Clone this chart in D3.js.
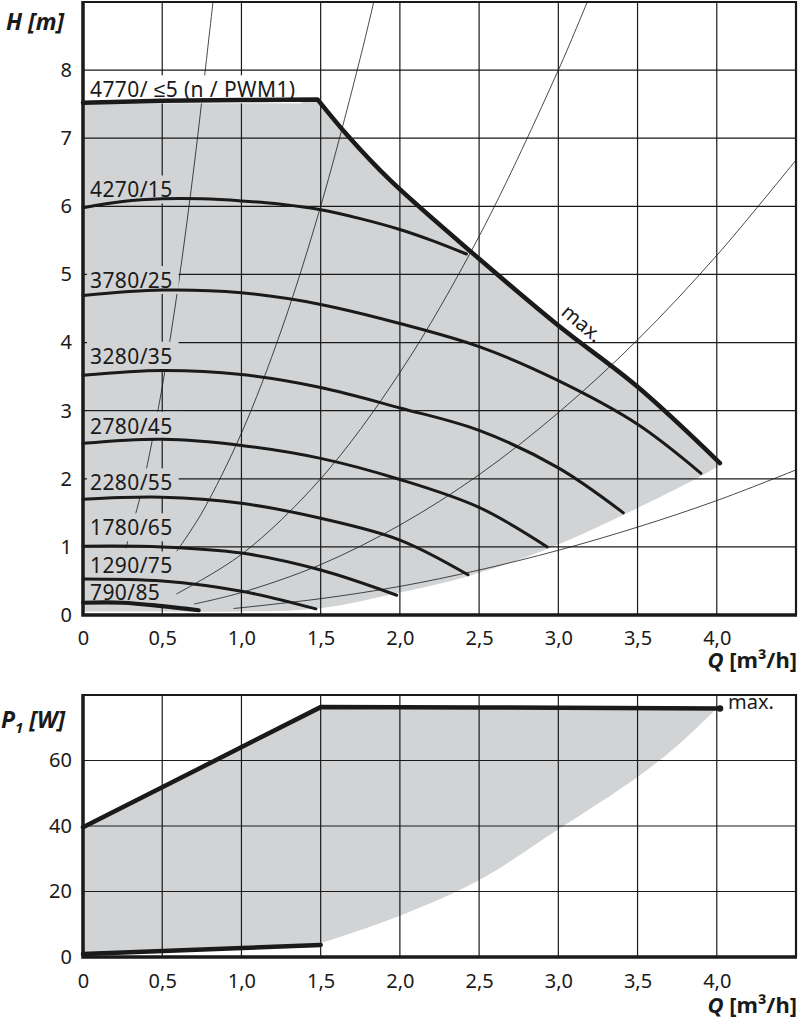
<!DOCTYPE html>
<html><head><meta charset="utf-8">
<script src="https://cdn.jsdelivr.net/npm/d3@7"></script>
<style>
body{margin:0;background:#fff}
svg{display:block}
text{font-family:"Noto Sans",sans-serif;fill:#1a1a1a}
</style>
</head><body><svg id="c" width="799" height="1019"></svg>
<script>
// ---------- data ----------
const qTicks = [0, 0.5, 1.0, 1.5, 2.0, 2.5, 3.0, 3.5, 4.0];
const qTickLabels = ["0", "0,5", "1,0", "1,5", "2,0", "2,5", "3,0", "3,5", "4,0"];
const hTicks = [0, 1, 2, 3, 4, 5, 6, 7, 8];
const pTicks = [0, 20, 40, 60];

const curveLabels = ["4770/ ≤5 (n / PWM1)", "4270/15", "3780/25", "3280/35", "2780/45", "2280/55", "1780/65", "1290/75", "790/85"];
const labelBaselineH = [7.6, 6.13, 4.8, 3.69, 2.66, 1.83, 1.17, 0.61, 0.22];

const curveMaxFlat = [[0, 7.52], [0.5, 7.55], [1.0, 7.56], [1.48, 7.57]];
const curveMaxDrop = [[1.48, 7.57], [1.67, 7.04], [1.94, 6.38], [2.5, 5.23], [3.0, 4.25], [3.5, 3.35], [4.02, 2.23]];
const curve4270 = [[0, 5.98], [0.25, 6.07], [0.5, 6.11], [0.75, 6.11], [1.0, 6.08], [1.25, 6.03], [1.5, 5.95], [1.75, 5.82], [2.0, 5.66], [2.2, 5.5], [2.42, 5.3]];
const curve3780 = [[0, 4.69], [0.5, 4.77], [1.0, 4.73], [1.5, 4.56], [2.0, 4.28], [2.5, 3.94], [3.0, 3.44], [3.5, 2.8], [3.9, 2.08]];
const curve3280 = [[0, 3.52], [0.5, 3.59], [1.0, 3.53], [1.5, 3.34], [2.0, 3.04], [2.5, 2.71], [3.0, 2.16], [3.41, 1.5]];
const curve2780 = [[0, 2.52], [0.5, 2.58], [1.0, 2.49], [1.5, 2.3], [2.0, 1.99], [2.5, 1.58], [2.93, 1.0]];
const curve2280 = [[0, 1.7], [0.5, 1.73], [1.0, 1.64], [1.5, 1.42], [2.0, 1.1], [2.43, 0.59]];
const curve1780 = [[0, 1.01], [0.5, 1.0], [1.0, 0.91], [1.5, 0.66], [1.98, 0.29]];
const curve1290 = [[0, 0.53], [0.5, 0.5], [1.0, 0.35], [1.47, 0.09]];
const curve790 = [[0, 0.18], [0.25, 0.18], [0.5, 0.13], [0.73, 0.07]];

const fillLowerH = [[4.02, 2.2], [3.82, 1.94], [3.41, 1.47], [2.93, 0.97], [2.43, 0.57], [2.0, 0.33], [1.5, 0.1], [1.0, 0.05], [0.5, 0.05], [0, 0.05]];

const system1 = [[0.27, 0.98], [0.35, 1.64], [0.4, 2.14], [0.5, 3.35], [0.6, 4.82], [0.7, 6.57], [0.8, 8.58], [0.83, 9.2]];
const system2 = [[0.59, 0.93], [0.75, 1.5], [1.0, 2.67], [1.25, 4.17], [1.5, 6.0], [1.75, 8.18], [1.85, 9.15]];
const system3 = [[0.59, 0.31], [1.0, 0.89], [1.5, 2.0], [2.0, 3.56], [2.5, 5.56], [3.0, 8.0], [3.2, 9.1]];
const system4 = [[0.7, 0.16], [1.0, 0.33], [1.5, 0.74], [2.0, 1.32], [2.5, 2.06], [3.0, 2.97], [3.5, 4.04], [4.0, 5.28], [4.5, 6.68]];
const system5 = [[0.95, 0.095], [1.5, 0.24], [2.0, 0.42], [2.5, 0.66], [3.0, 0.95], [3.5, 1.29], [4.0, 1.68], [4.5, 2.13]];

const powerMax = [[0, 39.6], [1.5, 76.3], [2.5, 76.2], [4.02, 75.9]];
const powerMin = [[0, 0.9], [1.5, 3.7]];
const powerFillLower = [[4.0, 75.9], [3.75, 64.5], [3.5, 55], [3.0, 39], [2.5, 23.5], [2.0, 12.6], [1.5, 4.2]];

// ---------- drawing ----------
const svg = d3.select("#c");
const FILL = "#d1d3d5", INK = "#1a1a1a";
const x = d3.scaleLinear().domain([0, 4.5]).range([83, 796]);
const yH = d3.scaleLinear().domain([0, 9]).range([615, 2]);
const yP = d3.scaleLinear().domain([0, 80]).range([957, 695]);

svg.append("defs").append("clipPath").attr("id", "clipH")
  .append("rect").attr("x", x(0)).attr("y", yH(9)).attr("width", x(4.5) - x(0)).attr("height", yH(0) - yH(9));

// ===== top chart =====
const gTop = svg.append("g");
const lineH = d3.line().x(d => x(d[0])).y(d => yH(d[1]));
const lineHs = d3.line().x(d => x(d[0])).y(d => yH(d[1])).curve(d3.curveCatmullRom.alpha(0.5));
const maxPath = lineH(curveMaxFlat) + "L" + lineHs(curveMaxDrop).slice(1);

gTop.append("path")
  .attr("d", maxPath + "L" + lineHs(fillLowerH).slice(1) + "Z")
  .attr("fill", FILL);

gTop.append("g").selectAll("line").data(qTicks.filter(d => d > 0)).join("line")
  .attr("x1", d => x(d)).attr("x2", d => x(d)).attr("y1", yH(0)).attr("y2", yH(9))
  .attr("stroke", INK).attr("stroke-width", 1.2);
gTop.append("g").selectAll("line").data(hTicks.filter(d => d > 0)).join("line")
  .attr("x1", x(0)).attr("x2", x(4.5)).attr("y1", d => yH(d)).attr("y2", d => yH(d))
  .attr("stroke", INK).attr("stroke-width", 1.2);

gTop.append("g").attr("clip-path", "url(#clipH)").selectAll("path")
  .data([system1, system2, system3, system4, system5]).join("path")
  .attr("d", lineHs).attr("fill", "none").attr("stroke", INK).attr("stroke-width", 0.8);

const labG = gTop.append("g");
curveLabels.forEach((t, i) => {
  const g = labG.append("g");
  const r = g.append("rect");
  const tx = g.append("text").attr("x", 90).attr("y", yH(labelBaselineH[i]))
    .attr("font-size", 21).attr("letter-spacing", 0.4).text(t);
  const bb = tx.node().getBBox();
  r.attr("x", 87).attr("y", bb.y).attr("width", bb.x + bb.width + 6 - 87).attr("height", bb.height)
    .attr("fill", i === 0 ? "#fff" : FILL);
});

const pump = [curve4270, curve3780, curve3280, curve2780, curve2280, curve1780, curve1290];
gTop.append("g").selectAll("path").data(pump).join("path")
  .attr("d", lineHs).attr("fill", "none").attr("stroke", INK).attr("stroke-width", 3).attr("stroke-linecap", "round");
gTop.append("path").attr("d", lineHs(curve790)).attr("fill", "none").attr("stroke", INK)
  .attr("stroke-width", 4.2).attr("stroke-linecap", "round");
gTop.append("path").attr("d", maxPath).attr("fill", "none").attr("stroke", INK)
  .attr("stroke-width", 4.5).attr("stroke-linecap", "round").attr("stroke-linejoin", "round");

gTop.append("text").attr("transform", "translate(560,314) rotate(40)").attr("font-size", 20).text("max.");

gTop.append("path").attr("d", `M${x(0)},${yH(9)}H${x(4.5)}V${yH(0)}`).attr("fill", "none").attr("stroke", INK).attr("stroke-width", 2.2);
gTop.append("path").attr("d", `M${x(0)},${yH(9) - 1}V${yH(0)}H${x(4.5) + 1}`).attr("fill", "none").attr("stroke", INK).attr("stroke-width", 3.5);

const axH = d3.axisLeft(yH).tickValues(hTicks).tickSize(0).tickPadding(11).tickFormat(d3.format("d"));
gTop.append("g").attr("transform", `translate(${x(0)},0)`).call(axH)
  .call(g => g.select(".domain").remove())
  .selectAll("text").attr("font-size", 20).attr("font-family", '"Noto Sans",sans-serif').attr("fill", INK);
const axQ1 = d3.axisBottom(x).tickValues(qTicks).tickSize(0).tickPadding(16).tickFormat((d, i) => qTickLabels[i]);
gTop.append("g").attr("transform", `translate(0,${yH(0)})`).call(axQ1)
  .call(g => g.select(".domain").remove())
  .selectAll("text").attr("font-size", 20).attr("font-family", '"Noto Sans",sans-serif').attr("fill", INK);

gTop.append("text").attr("x", 6).attr("y", 30).attr("font-size", 23).attr("font-weight", "bold").attr("font-style", "italic").text("H [m]");
const qt1 = gTop.append("text").attr("x", 797).attr("y", 668).attr("text-anchor", "end").attr("font-size", 22).attr("font-weight", "bold");
qt1.append("tspan").attr("font-style", "italic").text("Q");
qt1.append("tspan").text(" [m³/h]");

// ===== bottom chart =====
const gBot = svg.append("g");
const lineP = d3.line().x(d => x(d[0])).y(d => yP(d[1]));
const linePs = d3.line().x(d => x(d[0])).y(d => yP(d[1])).curve(d3.curveCatmullRom.alpha(0.5));

gBot.append("path")
  .attr("d", lineP(powerMax) + "L" + linePs(powerFillLower).slice(1) + "L" + lineP(powerMin.slice().reverse()).slice(1) + "Z")
  .attr("fill", FILL);

gBot.append("g").selectAll("line").data(qTicks.filter(d => d > 0)).join("line")
  .attr("x1", d => x(d)).attr("x2", d => x(d)).attr("y1", yP(0)).attr("y2", yP(80))
  .attr("stroke", INK).attr("stroke-width", 1.2);
gBot.append("g").selectAll("line").data(pTicks.filter(d => d > 0)).join("line")
  .attr("x1", x(0)).attr("x2", x(4.5)).attr("y1", d => yP(d)).attr("y2", d => yP(d))
  .attr("stroke", INK).attr("stroke-width", 1.2);

gBot.append("path").attr("d", lineP(powerMax)).attr("fill", "none").attr("stroke", INK)
  .attr("stroke-width", 4.5).attr("stroke-linecap", "round").attr("stroke-linejoin", "round");
gBot.append("circle").attr("cx", x(powerMax[powerMax.length - 1][0])).attr("cy", yP(powerMax[powerMax.length - 1][1])).attr("r", 3.3).attr("fill", INK);
gBot.append("path").attr("d", lineP(powerMin)).attr("fill", "none").attr("stroke", INK)
  .attr("stroke-width", 4.5).attr("stroke-linecap", "round");

gBot.append("text").attr("x", 728).attr("y", 709).attr("font-size", 20).text("max.");

gBot.append("path").attr("d", `M${x(0)},${yP(80)}H${x(4.5)}V${yP(0)}`).attr("fill", "none").attr("stroke", INK).attr("stroke-width", 2.2);
gBot.append("path").attr("d", `M${x(0)},${yP(80) - 1}V${yP(0)}H${x(4.5) + 1}`).attr("fill", "none").attr("stroke", INK).attr("stroke-width", 3.5);

const axP = d3.axisLeft(yP).tickValues(pTicks).tickSize(0).tickPadding(11).tickFormat(d3.format("d"));
gBot.append("g").attr("transform", `translate(${x(0)},0)`).call(axP)
  .call(g => g.select(".domain").remove())
  .selectAll("text").attr("font-size", 20).attr("font-family", '"Noto Sans",sans-serif').attr("fill", INK);
const axQ2 = d3.axisBottom(x).tickValues(qTicks).tickSize(0).tickPadding(17).tickFormat((d, i) => qTickLabels[i]);
gBot.append("g").attr("transform", `translate(0,${yP(0)})`).call(axQ2)
  .call(g => g.select(".domain").remove())
  .selectAll("text").attr("font-size", 20).attr("font-family", '"Noto Sans",sans-serif').attr("fill", INK);

const pt = gBot.append("text").attr("x", 1).attr("y", 728).attr("font-size", 23).attr("font-weight", "bold").attr("font-style", "italic");
pt.append("tspan").text("P");
pt.append("tspan").attr("font-size", 15).attr("dy", 5).text("1");
pt.append("tspan").attr("dy", -5).text(" [W]");
const qt2 = gBot.append("text").attr("x", 797).attr("y", 1013).attr("text-anchor", "end").attr("font-size", 22).attr("font-weight", "bold");
qt2.append("tspan").attr("font-style", "italic").text("Q");
qt2.append("tspan").text(" [m³/h]");
</script></body></html>
